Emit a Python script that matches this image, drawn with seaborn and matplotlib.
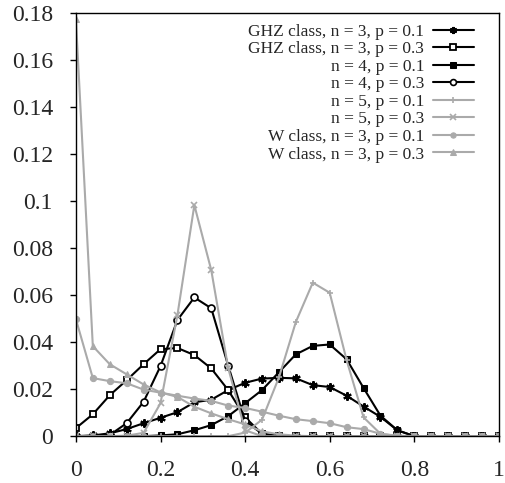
import numpy as np
import pandas as pd
import matplotlib
matplotlib.use('Agg')
import matplotlib.pyplot as plt
import seaborn as sns

# dados (x = 0, 0.04, ..., 1)
x_vals = [0.00, 0.04, 0.08, 0.12, 0.16, 0.20, 0.24, 0.28, 0.32, 0.36,
          0.40, 0.44, 0.48, 0.52, 0.56, 0.60, 0.64, 0.68, 0.72, 0.76,
          0.80, 0.84, 0.88, 0.92, 0.96, 1.00]

ghz3_p01 = [0, 0.0003, 0.0012, 0.003, 0.0055, 0.0078, 0.0102, 0.0144, 0.0155, 0.0196,
            0.0227, 0.0245, 0.0248, 0.0246, 0.0217, 0.0209, 0.0172, 0.0126, 0.0082, 0.0025,
            0, 0, 0, 0, 0, 0]
ghz3_p03 = [0.0034, 0.0093, 0.0174, 0.0238, 0.0306, 0.037, 0.0375, 0.0345, 0.0288, 0.0196,
            0.008, 0.001, 0, 0, 0, 0, 0, 0, 0, 0,
            0, 0, 0, 0, 0, 0]
n4_p01 = [0, 0, 0, 0, 0, 0.0003, 0.0008, 0.0025, 0.0047, 0.0085,
          0.014, 0.0196, 0.0272, 0.0348, 0.0384, 0.039, 0.0327, 0.0205, 0.0087, 0.0025,
          0, 0, 0, 0, 0, 0]
n4_p03 = [0, 0.0001, 0.0005, 0.0055, 0.0146, 0.0298, 0.0494, 0.059, 0.0544, 0.030,
          0.0065, 0.001, 0, 0, 0, 0, 0, 0, 0, 0,
          0, 0, 0, 0, 0, 0]
n5_p01 = [0, 0, 0, 0, 0, 0, 0, 0, 0, 0,
          0.0015, 0.007, 0.025, 0.0486, 0.0653, 0.061, 0.0323, 0.008, 0.001, 0,
          0, 0, 0, 0, 0, 0]
n5_p03 = [0, 0, 0, 0.0002, 0.0014, 0.014, 0.0515, 0.0983, 0.0706, 0.029,
          0.0025, 0, 0, 0, 0, 0, 0, 0, 0, 0,
          0, 0, 0, 0, 0, 0]
w3_p01 = [0.0498, 0.0247, 0.0234, 0.0225, 0.0198, 0.0185, 0.0172, 0.016, 0.015, 0.013,
          0.012, 0.0104, 0.0087, 0.0072, 0.0064, 0.0055, 0.0038, 0.003, 0.001, 0.0002,
          0, 0, 0, 0, 0, 0]
w3_p03 = [0.1774, 0.0383, 0.0306, 0.0263, 0.022, 0.0186, 0.0167, 0.0125, 0.0097, 0.0072,
          0.005, 0.002, 0.0008, 0.0002, 0, 0, 0, 0, 0, 0,
          0, 0, 0, 0, 0, 0]

labels = ['GHZ class, n = 3, p = 0.1', 'GHZ class, n = 3, p = 0.3',
          'n = 4, p = 0.1', 'n = 4, p = 0.3',
          'n = 5, p = 0.1', 'n = 5, p = 0.3',
          'W class, n = 3, p = 0.1', 'W class, n = 3, p = 0.3']
series = [ghz3_p01, ghz3_p03, n4_p01, n4_p03, n5_p01, n5_p03, w3_p01, w3_p03]

x_ticks = [0, 0.2, 0.4, 0.6, 0.8, 1]
x_tick_labels = ['0', '0.2', '0.4', '0.6', '0.8', '1']
y_ticks = [0, 0.02, 0.04, 0.06, 0.08, 0.1, 0.12, 0.14, 0.16, 0.18]
y_tick_labels = ['0', '0.02', '0.04', '0.06', '0.08', '0.1', '0.12', '0.14', '0.16', '0.18']

gray = '#aaaaaa'
estilos = [
    dict(color='black', marker=(6, 2, 0), markersize=6, markeredgewidth=1.5),
    dict(color='black', marker='s', markersize=5, markerfacecolor='white', markeredgewidth=1.3),
    dict(color='black', marker='s', markersize=5),
    dict(color='black', marker='o', markersize=5, markerfacecolor='white', markeredgewidth=1.2),
    dict(color=gray, marker='+', markersize=5, markeredgewidth=1.2),
    dict(color=gray, marker='x', markersize=5, markeredgewidth=1.2),
    dict(color=gray, marker='o', markersize=4.5),
    dict(color=gray, marker='^', markersize=5),
]

sns.set_style('ticks')
plt.rcParams['font.family'] = ['Liberation Serif', 'DejaVu Serif']

df = pd.DataFrame({'x': x_vals})
for lab, vals in zip(labels, series):
    df[lab] = vals

fig = plt.figure(figsize=(5.06, 4.83), dpi=100)
ax = fig.add_axes([0.150, 0.097, 0.836, 0.876])

for lab, st in zip(labels, estilos):
    sns.lineplot(data=df, x='x', y=lab, ax=ax, label=lab, linewidth=1.5,
                 markeredgecolor=st['color'], **st)

ax.set_xlim(0, 1)
ax.set_ylim(0, 0.18)
ax.set_xticks(x_ticks)
ax.set_xticklabels(x_tick_labels)
ax.set_yticks(y_ticks)
ax.set_yticklabels(y_tick_labels)
ax.set_xlabel('')
ax.set_ylabel('')
ax.tick_params(axis='both', direction='out', length=4.5, width=1, labelsize=17,
               color='black', pad=12)
ax.tick_params(axis='x', pad=13)
for s in ax.spines.values():
    s.set_visible(True)
    s.set_color('black')
    s.set_linewidth(1)

leg = ax.legend(loc='upper right', bbox_to_anchor=(0.9405, 0.975), markerfirst=False,
                frameon=False, fontsize=12.5, handlelength=2.35, handletextpad=0.5,
                labelspacing=0.08, borderpad=0, borderaxespad=0, markerscale=0.85)

fig.savefig('out.png', dpi=100)
